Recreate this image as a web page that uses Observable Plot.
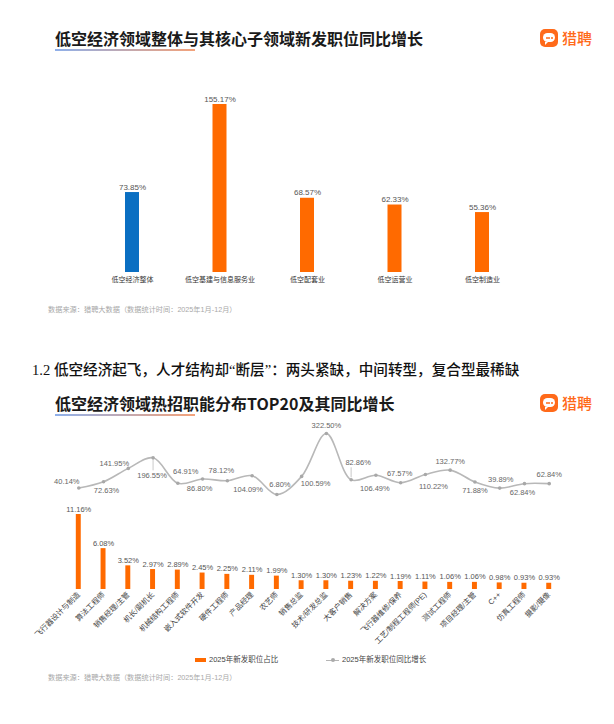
<!DOCTYPE html>
<html><head><meta charset="utf-8">
<script src="https://cdn.jsdelivr.net/npm/d3@7"></script>
<script src="https://cdn.jsdelivr.net/npm/@observablehq/plot@0.6"></script>
<style>
body{margin:0;background:#fff;width:614px;height:724px;position:relative;overflow:hidden;font-family:"Noto Sans CJK SC",sans-serif;}
.abs{position:absolute;}
.title{left:55px;font-size:16px;font-weight:700;color:#1a1a1a;line-height:20px;white-space:nowrap;}
.uline{left:55px;width:140px;height:1.5px;background:linear-gradient(90deg,#8fb0ea,#f3a27a);}
.logo{left:540px;display:flex;align-items:center;gap:4px;}
.icon{width:18px;height:18px;border-radius:5px;background:#ff6a1a;position:relative;}
.bub{position:absolute;left:3px;top:4px;width:12px;height:9px;border-radius:5px;background:#fff;}
.bub:after{content:"";position:absolute;left:2px;bottom:-3px;border-left:3px solid #fff;border-bottom:3px solid transparent;}
.bub i{position:absolute;top:3.5px;width:2px;height:2px;border-radius:1px;background:#ff6a1a;}
.logo span{font-size:15px;color:#ff6a1a;font-weight:500;line-height:18px;}
.src{left:48px;font-size:7.2px;color:#a8a8a8;line-height:10px;white-space:nowrap;font-family:"Liberation Sans","Noto Sans CJK SC",sans-serif;}
.para{left:32px;font-size:14.6px;color:#111;font-weight:500;line-height:20px;white-space:nowrap;font-family:"Liberation Serif","Noto Sans CJK SC",serif;}
.leg{font-size:7.5px;color:#444;line-height:10px;white-space:nowrap;font-family:"Liberation Sans","Noto Sans CJK SC",sans-serif;display:flex;align-items:center;}
.chart{position:absolute;left:0;width:614px;}
svg{overflow:visible;}
</style></head><body>
<div class="abs title" style="top:28px">低空经济领域整体与其核心子领域新发职位同比增长</div>
<div class="abs uline" style="top:49px"></div>
<div class="abs logo" style="top:29px"><div class="icon"><div class="bub"><i style="left:2.5px"></i><i style="left:5px"></i><i style="left:7.5px"></i></div></div><span>猎聘</span></div>
<div class="chart" id="c1" style="top:80px"></div>
<div class="abs src" style="top:305px">数据来源：猎聘大数据（数据统计时间：2025年1月-12月）</div>
<div class="abs para" style="top:360px">1.2 低空经济起飞，人才结构却“断层”：两头紧缺，中间转型，复合型最稀缺</div>
<div class="abs title" style="top:393px">低空经济领域热招职能分布TOP20及其同比增长</div>
<div class="abs uline" style="top:414px"></div>
<div class="abs logo" style="top:394px"><div class="icon"><div class="bub"><i style="left:2.5px"></i><i style="left:5px"></i><i style="left:7.5px"></i></div></div><span>猎聘</span></div>
<div class="chart" id="c2" style="top:420px"></div>
<div class="chart" id="c3" style="top:420px;pointer-events:none"></div>
<div class="abs leg" style="top:655px;left:195px"><span style="display:inline-block;width:11px;height:4px;background:#ff6a00;margin-right:3px"></span>2025年新发职位占比</div>
<div class="abs leg" style="top:655px;left:326px"><span style="display:inline-block;width:13px;height:1px;background:#b5b5b5;margin-right:3px;position:relative"><span style="position:absolute;left:5px;top:-1.5px;width:4px;height:4px;border-radius:2px;background:#aaa"></span></span>2025年新发职位同比增长</div>
<div class="abs src" style="top:673px">数据来源：猎聘大数据（数据统计时间：2025年1月-12月）</div>
<script>
const domains1 = ["低空经济整体","低空基建与信息服务业","低空配套业","低空运营业","低空制造业"];
const growth1 = [73.85,155.17,68.57,62.33,55.36];

const roles = ["飞行器设计与制造","算法工程师","销售经理/主管","机长/副机长","机械结构工程师","嵌入式软件开发","硬件工程师","产品经理","农艺师","销售总监","技术/研发总监","大客户销售","解决方案","飞行器维修/保养","工艺/制程工程师(PE)","测试工程师","项目经理/主管","C++","仿真工程师","摄影/摄像"];
const share = [11.16,6.08,3.52,2.97,2.89,2.45,2.25,2.11,1.99,1.30,1.30,1.23,1.22,1.19,1.11,1.06,1.06,0.98,0.93,0.93];
const growth2 = [40.14,72.63,141.95,196.55,64.91,86.80,78.12,104.09,6.80,100.59,322.50,82.86,106.49,67.57,110.22,132.77,71.88,39.89,62.84,62.84];

const BLUE = "#0a6fc2", ORANGE = "#ff6a00";
const FONT = '"Liberation Sans","Noto Sans CJK SC",sans-serif';
const pct = v => v.toFixed(2) + "%";

const data1 = domains1.map((c, i) => ({c, v: growth1[i], i}));
const chart1 = Plot.plot({
  width: 614, height: 215,
  marginLeft: 51.5, marginRight: 51.5, marginTop: 24, marginBottom: 23,
  style: {fontFamily: FONT, fontSize: "7px", color: "#333", background: "transparent"},
  x: {type: "band", round: false, domain: domains1, padding: 0.84, label: null, tickSize: 0, tickPadding: 5},
  y: {domain: [0, d3.max(growth1)], axis: null},
  marks: [
    Plot.barY(data1.filter(d => d.i === 0), {x: "c", y: "v", fill: BLUE}),
    Plot.barY(data1.filter(d => d.i > 0), {x: "c", y: "v", fill: ORANGE}),
    Plot.text(data1, {x: "c", y: "v", text: d => pct(d.v), lineAnchor: "bottom", dy: -3, fontSize: 8, fill: "#555"})
  ]
});
document.getElementById("c1").appendChild(chart1);

const data2 = roles.map((r, i) => ({r, s: share[i], g: growth2[i], i}));
const xOpts = {type: "band", round: false, domain: roles, padding: 0.8, label: null};
const chart2 = Plot.plot({
  width: 614, height: 240,
  marginLeft: 56, marginRight: 43, marginTop: 94, marginBottom: 71,
  style: {fontFamily: FONT, fontSize: "7.5px", color: "#444", background: "transparent"},
  x: {...xOpts, tickSize: 0, tickPadding: 4, tickRotate: -45},
  y: {domain: [0, d3.max(share)], axis: null},
  marks: [
    Plot.barY(data2, {x: "r", y: "s", fill: ORANGE}),
    Plot.text(data2, {x: "r", y: "s", text: d => pct(d.s), lineAnchor: "bottom", dy: -3, fontSize: 7.5, fill: "#555"})
  ]
});
document.getElementById("c2").appendChild(chart2);

// label offsets (px) for the growth-line labels, by position in the series
const labelOffset = [[-12,-6],[3,9],[-14,-5],[-1,18],[8,-12],[-3,10],[-6,-10],[-4,14],[3,-10],[14,7],
                     [0,-8],[7,-17],[-1,13],[-1,-9],[8,12],[0,-9],[0,9],[1,-9],[-2,9],[0,-9]];

const chart3 = Plot.plot({
  width: 614, height: 240,
  marginLeft: 56, marginRight: 43, marginTop: 13, marginBottom: 166,
  style: {fontFamily: FONT, fontSize: "7.5px", background: "transparent"},
  x: {...xOpts, axis: null},
  y: {domain: d3.extent(growth2), axis: null},
  marks: [
    Plot.ruleX(data2.filter(d => d.i === 3), {x: "r", y1: "g", y2: "g", insetTop: 2, insetBottom: -13, stroke: "#bbb", strokeWidth: 0.8}),
    Plot.ruleX(data2.filter(d => d.i === 11), {x: "r", y1: "g", y2: "g", insetTop: -12, insetBottom: 2, stroke: "#bbb", strokeWidth: 0.8}),
    Plot.line(data2, {x: "r", y: "g", curve: "catmull-rom", stroke: "#b8b8b8", strokeWidth: 1.6}),
    Plot.dot(data2, {x: "r", y: "g", r: 1.8, fill: "#a8a8a8"}),
    ...data2.map(d => Plot.text([d], {x: "r", y: "g", text: d => pct(d.g), fontSize: 7.5, fill: "#666",
      dx: labelOffset[d.i][0], dy: labelOffset[d.i][1]}))
  ]
});
document.getElementById("c3").appendChild(chart3);
</script>
</body></html>
